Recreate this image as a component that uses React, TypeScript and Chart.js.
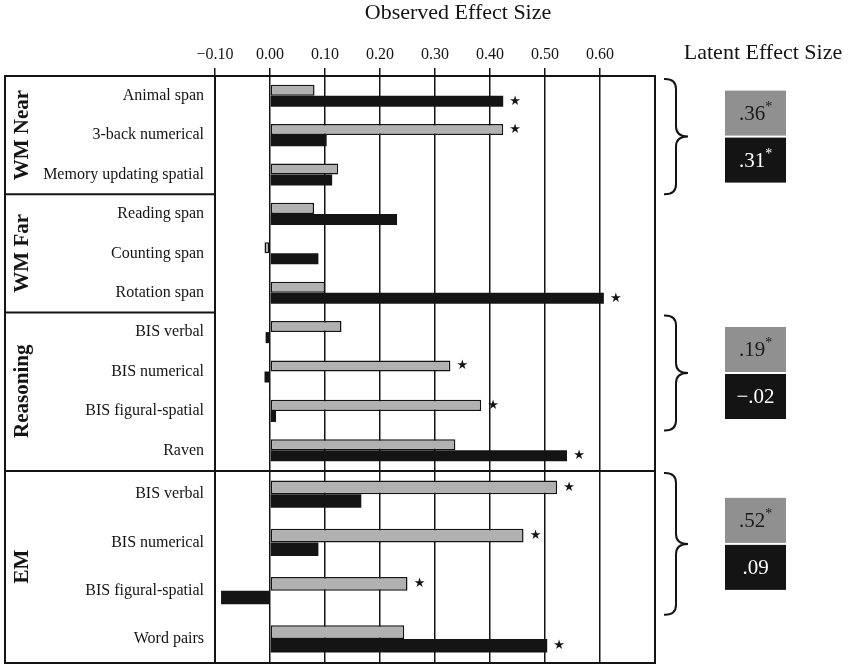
import React, { useEffect, useRef } from 'react';
import { Chart, registerables } from 'chart.js';

Chart.register(...registerables);

// ---------- data ----------
const categories = [
  'Animal span', '3-back numerical', 'Memory updating spatial',
  'Reading span', 'Counting span', 'Rotation span',
  'BIS verbal', 'BIS numerical', 'BIS figural-spatial', 'Raven',
  'BIS verbal', 'BIS numerical', 'BIS figural-spatial', 'Word pairs',
];
const groupNames = ['WM Near', 'WM Far', 'Reasoning', 'EM'];
const groupSizes = [3, 3, 4, 4];
const grayValues = [0.081, 0.424, 0.124, 0.080, -0.010, 0.100, 0.130, 0.328, 0.384, 0.337, 0.522, 0.461, 0.250, 0.244];
const blackValues = [0.424, 0.103, 0.113, 0.231, 0.088, 0.607, -0.008, -0.010, 0.011, 0.540, 0.166, 0.088, -0.089, 0.504];
const graySig = [false, true, false, false, false, false, false, true, true, false, true, true, true, false];
const blackSig = [true, false, false, false, false, true, false, false, false, true, false, false, false, true];
const xTickValues = [-0.1, 0, 0.1, 0.2, 0.3, 0.4, 0.5, 0.6];
const xMin = -0.1;
const xMax = 0.7;
const latentGroups = ['WM Near', 'Reasoning', 'EM'];
const latentGray = ['.36*', '.19*', '.52*'];
const latentBlack = ['.31*', '\u2212.02', '.09'];
const observedTitle = 'Observed Effect Size';
const latentTitle = 'Latent Effect Size';

// ---------- style ----------
const SERIF = '"Liberation Serif", "DejaVu Serif", serif';
const INK = '#141414';
const GRAY_FILL = '#b1b1b1';
const BOX_GRAY = '#909090';
const FRAME_LEFT = 5;
const SPLIT = 470;

function fmtTick(v: number) {
  const s = Math.abs(v).toFixed(2);
  return v < -1e-9 ? '\u2212' + s : s;
}

function drawValueText(ctx: CanvasRenderingContext2D, text: string, cx: number, cy: number, color: string) {
  const star = text.endsWith('*');
  const main = star ? text.slice(0, -1) : text;
  ctx.font = `21px ${SERIF}`;
  const w = ctx.measureText(main).width;
  ctx.font = `14px ${SERIF}`;
  const sw = star ? ctx.measureText('*').width : 0;
  const left = cx - (w + sw) / 2;
  ctx.fillStyle = color;
  ctx.textAlign = 'left';
  ctx.textBaseline = 'middle';
  ctx.font = `21px ${SERIF}`;
  ctx.fillText(main, left, cy + 1);
  if (star) {
    ctx.font = `14px ${SERIF}`;
    ctx.fillText('*', left + w, cy - 6);
  }
}

type PanelCfg = {
  from: number;
  to: number;
  withAxis: boolean;
};

function buildChart(canvas: HTMLCanvasElement, cfg: PanelCfg) {
  const labels = categories.slice(cfg.from, cfg.to);
  const gVals = grayValues.slice(cfg.from, cfg.to);
  const bVals = blackValues.slice(cfg.from, cfg.to);
  const gSig = graySig.slice(cfg.from, cfg.to);
  const bSig = blackSig.slice(cfg.from, cfg.to);

  const groups: { name: string; start: number; size: number }[] = [];
  let idx = 0;
  groupNames.forEach((name, gi) => {
    const s = idx;
    idx += groupSizes[gi];
    if (s >= cfg.from && s < cfg.to) groups.push({ name, start: s - cfg.from, size: groupSizes[gi] });
  });

  const overlay = {
    id: 'overlay',
    afterDatasetsDraw(chart: any) {
      const ctx = chart.ctx as CanvasRenderingContext2D;
      ctx.save();
      ctx.fillStyle = INK;
      ctx.font = `13px "DejaVu Sans", sans-serif`;
      ctx.textAlign = 'center';
      ctx.textBaseline = 'middle';
      [gSig, bSig].forEach((sig, di) => {
        const meta = chart.getDatasetMeta(di);
        meta.data.forEach((bar: any, i: number) => {
          if (!sig[i]) return;
          ctx.fillText('\u2605', bar.x + 12, bar.y);
        });
      });
      ctx.restore();
    },
    afterDraw(chart: any) {
      const ctx = chart.ctx as CanvasRenderingContext2D;
      const area = chart.chartArea;
      const ys = chart.scales.y;
      const edge = (k: number) => ys.getPixelForValue(k - 0.5);
      ctx.save();
      ctx.strokeStyle = INK;
      ctx.lineWidth = 2;
      ctx.lineCap = 'square';
      const line = (x1: number, y1: number, x2: number, y2: number) => {
        ctx.beginPath();
        ctx.moveTo(x1, y1);
        ctx.lineTo(x2, y2);
        ctx.stroke();
      };
      const top = cfg.withAxis ? area.top : 1;
      const bottom = area.bottom;
      line(FRAME_LEFT, top, area.right, top);
      line(FRAME_LEFT, top, FRAME_LEFT, bottom);
      line(area.left, top, area.left, bottom);
      line(area.right, top, area.right, bottom);
      if (!cfg.withAxis) line(FRAME_LEFT, bottom, area.right, bottom);
      groups.forEach((g) => {
        if (g.start > 0) {
          const y = edge(g.start);
          line(FRAME_LEFT, y, area.left, y);
        }
      });
      ctx.fillStyle = INK;
      ctx.font = `bold 21px ${SERIF}`;
      ctx.textAlign = 'center';
      ctx.textBaseline = 'middle';
      groups.forEach((g) => {
        const cy = (edge(g.start) + edge(g.start + g.size)) / 2;
        ctx.save();
        ctx.translate(23, cy);
        ctx.rotate(-Math.PI / 2);
        ctx.fillText(g.name, 0, 0);
        ctx.restore();
      });
      groups.forEach((g) => {
        const li = latentGroups.indexOf(g.name);
        if (li < 0) return;
        const yTop = edge(g.start) + 3;
        const yBot = edge(g.start + 3);
        const mid = (yTop + yBot) / 2;
        const x0 = area.right + 10;
        const x1 = x0 + 11;
        const x2 = x0 + 23;
        const r = 10;
        ctx.lineWidth = 2;
        ctx.beginPath();
        ctx.moveTo(x0, yTop);
        ctx.quadraticCurveTo(x1, yTop, x1, yTop + r);
        ctx.lineTo(x1, mid - r);
        ctx.quadraticCurveTo(x1, mid, x2, mid);
        ctx.quadraticCurveTo(x1, mid, x1, mid + r);
        ctx.lineTo(x1, yBot - r);
        ctx.quadraticCurveTo(x1, yBot, x0, yBot);
        ctx.stroke();
        const bx = area.right + 70;
        const bw = 61;
        const bh = 45;
        ctx.fillStyle = BOX_GRAY;
        ctx.fillRect(bx, mid - bh - 1, bw, bh);
        ctx.fillStyle = INK;
        ctx.fillRect(bx, mid + 1, bw, bh);
        drawValueText(ctx, latentGray[li], bx + bw / 2, mid - bh / 2 - 1, '#1a1a1a');
        drawValueText(ctx, latentBlack[li], bx + bw / 2, mid + bh / 2 + 1, '#ffffff');
      });
      if (cfg.withAxis) {
        ctx.fillStyle = INK;
        ctx.font = `22px ${SERIF}`;
        ctx.textAlign = 'center';
        ctx.textBaseline = 'middle';
        ctx.fillText(observedTitle, 458, 13);
        ctx.fillText(latentTitle, 763, 53);
      }
      ctx.restore();
    },
  };

  return new Chart(canvas, {
    type: 'bar',
    data: {
      labels,
      datasets: [
        {
          label: 'gray',
          data: gVals,
          backgroundColor: GRAY_FILL,
          borderColor: INK,
          borderWidth: 1.5,
          borderSkipped: false,
          categoryPercentage: 0.56,
          barPercentage: 1,
        },
        {
          label: 'black',
          data: bVals,
          backgroundColor: INK,
          borderWidth: 0,
          categoryPercentage: 0.56,
          barPercentage: 1,
        },
      ],
    },
    options: {
      indexAxis: 'y',
      responsive: false,
      animation: false,
      devicePixelRatio: 1,
      layout: {
        padding: { left: FRAME_LEFT, right: 197, top: cfg.withAxis ? 36 : 0, bottom: cfg.withAxis ? 0 : 2 },
      },
      plugins: {
        legend: { display: false },
        tooltip: { enabled: false },
        title: { display: false },
      },
      scales: {
        x: {
          type: 'linear',
          position: 'top',
          min: xMin,
          max: xMax,
          afterBuildTicks: (scale: any) => {
            scale.ticks = xTickValues.map((v) => ({ value: v }));
          },
          afterFit: (scale: any) => {
            scale.height = cfg.withAxis ? 40 : 0;
          },
          ticks: {
            display: cfg.withAxis,
            callback: (v: any) => fmtTick(Number(v)),
            font: { family: SERIF, size: 16 },
            color: INK,
            padding: 4,
          },
          grid: {
            color: INK,
            lineWidth: 1.5,
            drawTicks: cfg.withAxis,
            tickLength: 8,
          },
          border: { display: false },
        },
        y: {
          afterFit: (scale: any) => {
            scale.width = 210;
            scale.paddingTop = 0;
            scale.paddingBottom = 0;
          },
          ticks: {
            font: { family: SERIF, size: 16 },
            color: INK,
            padding: 11,
            autoSkip: false,
          },
          grid: { display: false, drawTicks: false },
          border: { display: false },
        },
      },
    },
    plugins: [overlay],
  });
}

export default function App() {
  const topRef = useRef<HTMLCanvasElement | null>(null);
  const botRef = useRef<HTMLCanvasElement | null>(null);

  useEffect(() => {
    const split = groupSizes[0] + groupSizes[1] + groupSizes[2];
    const c1 = buildChart(topRef.current!, { from: 0, to: split, withAxis: true });
    const c2 = buildChart(botRef.current!, { from: split, to: categories.length, withAxis: false });
    return () => {
      c1.destroy();
      c2.destroy();
    };
  }, []);

  return (
    <div style={{ position: 'absolute', left: 0, top: 0, width: 852, height: 665, background: '#fff' }}>
      <canvas ref={topRef} width={852} height={SPLIT} style={{ position: 'absolute', left: 0, top: 0, display: 'block' }} />
      <canvas ref={botRef} width={852} height={665 - SPLIT} style={{ position: 'absolute', left: 0, top: SPLIT, display: 'block' }} />
    </div>
  );
}
